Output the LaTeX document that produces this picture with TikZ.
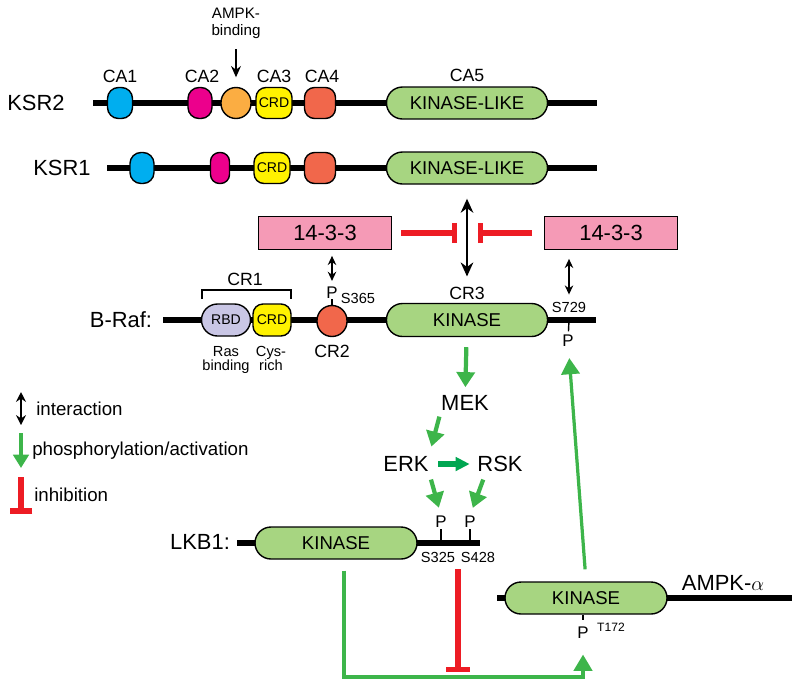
\documentclass[tikz,border=0pt]{standalone}
\usepackage{fontspec}
\setmainfont{Liberation Sans}
\usetikzlibrary{arrows.meta,positioning}

\definecolor{cablue}{HTML}{00AEEF}
\definecolor{camagenta}{HTML}{EC008C}
\definecolor{caorange}{HTML}{FBAD42}
\definecolor{crdyellow}{HTML}{FFF200}
\definecolor{cared}{HTML}{F1674B}
\definecolor{kingreen}{HTML}{A7D581}
\definecolor{rbdlilac}{HTML}{C9C6E5}
\definecolor{boxpink}{HTML}{F59AB6}
\definecolor{inhred}{HTML}{ED1C24}
\definecolor{actgreen}{HTML}{3DB54A}
\definecolor{actdark}{HTML}{00A651}

\def\pxu{0.025cm}

\tikzset{
  fnt/.style={font=\fontsize{#1}{#1}\selectfont},
  title/.style={fnt=15.6, inner sep=0pt},
  calab/.style={fnt=12.6, inner sep=0pt},
  small/.style={fnt=10.4, inner sep=0pt},
  plab/.style={fnt=12, inner sep=0pt},
  backbone/.style={line width=4.3pt},
  dom/.style={draw, line width=1pt, inner sep=0pt, minimum height=31*\pxu, rounded corners=#1*\pxu},
  dom/.default=10,
  kin/.style={dom=16, fill=kingreen, minimum width=161*\pxu, minimum height=32*\pxu, fnt=13.2},
  crd/.style={dom=10, fill=crdyellow, fnt=10},
  box/.style={draw, line width=1.2pt, fill=boxpink, minimum width=133*\pxu, minimum height=33*\pxu, fnt=15.6},
  inter/.style={line width=1.1pt, {Stealth[width=6pt,length=6.5pt]}-{Stealth[width=6pt,length=6.5pt]}},
  interbig/.style={line width=1.3pt, {Stealth[width=9pt,length=10pt]}-{Stealth[width=9pt,length=10pt]}},
  act/.style={draw=actgreen, line width=3pt, -{Triangle[width=12.8pt,length=10.7pt]}},
  actthin/.style={draw=actgreen, line width=2.3pt, -{Triangle[width=13pt,length=11.5pt]}},
  inh/.style={draw=inhred, line width=3.6pt, -{Bar[width=#1]}},
  inh/.default=14.5pt,
  gap/.style 2 args={shorten <=#1*\pxu, shorten >=#2*\pxu}
}

\begin{document}
\begin{tikzpicture}[x=0.025cm, y=-0.025cm]
\useasboundingbox (0,0) rectangle (800,687);

% KSR2
\draw[backbone] (93,103) -- (597,103);
\node[title] (ksr2) at (36,103) {KSR2};
\node[dom=11, fill=cablue, minimum width=25*\pxu] (ksr2ca1) at (120,103) {};
\node[dom=11, fill=camagenta, minimum width=24*\pxu] (ksr2ca2) at (200,103) {};
\node[dom=15, fill=caorange, minimum width=30*\pxu] (ksr2amp) at (236,103) {};
\node[crd, minimum width=36*\pxu] (ksr2crd) at (274,103) {CRD};
\node[dom=10, fill=cared, minimum width=31*\pxu] (ksr2ca4) at (320,103) {};
\node[kin] (ksr2kin) at (467,103) {KINASE-LIKE};
\node[calab] (lca1) at (120,76) {CA1};
\node[calab] (lca2) at (202,76) {CA2};
\node[calab] (lca3) at (274,76) {CA3};
\node[calab] (lca4) at (322,76) {CA4};
\node[calab] (lca5) at (467,75) {CA5};
\node[font=\fontsize{10.8}{12}\selectfont, align=center, inner sep=0pt, anchor=north] (ampkbind) at (236,8) {AMPK-\\binding};
\draw[line width=1.2pt, -{Stealth[width=7pt,length=8pt]}, gap={10}{9.5}] (ampkbind) -- (ksr2amp);

% KSR1
\draw[backbone] (107,168) -- (597,168);
\node[title] (ksr1) at (62,168) {KSR1};
\node[dom=11, fill=cablue, minimum width=24*\pxu] (ksr1ca1) at (142,168) {};
\node[dom=9, fill=camagenta, minimum width=19*\pxu] (ksr1ca2) at (220,168) {};
\node[crd, minimum width=36*\pxu] (ksr1crd) at (272,168) {CRD};
\node[dom=10, fill=cared, minimum width=31*\pxu] (ksr1ca4) at (320,168) {};
\node[kin] (ksr1kin) at (467,168) {KINASE-LIKE};

% 14-3-3
\node[box] (box1) at (325,233) {14-3-3};
\node[box] (box2) at (611,233) {14-3-3};

% B-Raf
\draw[backbone] (163,320) -- (596,320);
\node[title] (braf) at (121,320) {B-Raf:};
\node[dom=16, fill=rbdlilac, minimum width=49*\pxu, minimum height=32*\pxu, fnt=10] (rbd) at (226,320) {RBD};
\node[crd, minimum width=38*\pxu, minimum height=32*\pxu] (brafcrd) at (272,320) {CRD};
\node[dom=15, fill=cared, minimum width=30*\pxu] (cr2) at (332,321) {};
\node[kin, minimum height=33*\pxu] (brafkin) at (467,320) {KINASE};
\draw[line width=1.1pt] (202,299) -- (202,290) -- (291,290) -- (291,299);
\node[calab] (lcr1) at (245,279) {CR1};
\node[calab] (lcr2) at (332,351) {CR2};
\node[calab] (lcr3) at (467,293) {CR3};
\node[font=\fontsize{10.4}{10}\selectfont, align=center, inner sep=0pt, anchor=north] (rasb) at (226,346) {Ras\\binding};
\node[font=\fontsize{10.4}{10}\selectfont, align=center, inner sep=0pt, anchor=north] (cysr) at (271,346) {Cys-\\rich};
\node[plab] (p365) at (332,293) {P};
\node[small] (s365) at (358,298) {S365};
\draw[line width=1pt] (p365) -- (cr2);
\node[small] (s729) at (569,307) {S729};
\coordinate (b729) at (569,320);
\node[plab] (p729) at (568,341) {P};
\draw[line width=1pt, shorten >=3.5*\pxu] (b729) -- (p729);

\draw[interbig, gap={14}{10}] (ksr1kin) -- (lcr3);
\draw[inter, gap={5.5}{6}] (box1.south -| p365) -- (p365);
\draw[inter, gap={8.5}{7}] (box2.south -| s729) -- (s729);
\draw[inh, gap={9}{10}] (box1.east) -- (box1.east -| brafkin.center);
\draw[inh, gap={11.5}{11}] (box2.west) -- (box2.west -| brafkin.center);

% legend
\coordinate (lgi1) at (21,392);
\coordinate (lgi2) at (21,425);
\draw[line width=1.2pt, {Stealth[width=7pt,length=7pt]}-{Stealth[width=7pt,length=7pt]}] (lgi1) -- (lgi2);
\node[fnt=13.3, inner sep=0pt, anchor=base west] (lginter) at (36,415) {interaction};
\coordinate (lga1) at (21,433);
\coordinate (lga2) at (21,468);
\draw[act, -{Triangle[width=11pt,length=9.5pt]}] (lga1) -- (lga2);
\node[fnt=13.3, inner sep=0pt, anchor=base west] (lgact) at (32,455) {phosphorylation/activation};
\coordinate (lgh1) at (21,477);
\coordinate (lgh2) at (21,514);
\draw[inh=16pt, line width=4pt] (lgh1) -- (lgh2);
\node[fnt=13.3, inner sep=0pt, anchor=base west] (lginh) at (34,501) {inhibition};

% MAPK cascade
\node[title] (mek) at (465,403) {MEK};
\node[title] (erk) at (406,464) {ERK};
\node[title] (rsk) at (500,464) {RSK};
\draw[act, gap={10}{8}] (brafkin) -- (mek);
\draw[act, gap={6}{10}] (mek.south west) -- (erk.north east);
\draw[draw=actdark, line width=3.6pt, -{Triangle[width=9.5pt,length=10pt]}, gap={9.5}{7.5}] (erk.east) -- (rsk.west);

% LKB1
\draw[backbone] (237,543) -- (480,543);
\node[title] (lkb1) at (200,542) {LKB1:};
\node[kin, minimum width=162*\pxu] (lkbkin) at (336,543) {KINASE};
\coordinate (b325) at (441,543);
\coordinate (b428) at (470,543);
\node[plab] (p325) at (441,521.5) {P};
\node[plab] (p428) at (470,521.5) {P};
\draw[line width=1pt, shorten >=1.5*\pxu] (b325) -- (p325);
\draw[line width=1pt, shorten >=1.5*\pxu] (b428) -- (p428);
\node[small] (s325) at (438,557.5) {S325};
\node[small] (s428) at (478,557.5) {S428};
\draw[act, gap={8}{8}] (erk.south east) -- (p325.north);
\draw[act, gap={8}{8}] ([xshift=-14*\pxu]rsk.south) -- (p428.north);

% AMPK
\draw[backbone] (497,598) -- (792,598);
\node[title] (ampka) at (723,583) {AMPK-$\alpha$};
\node[kin, minimum width=162*\pxu] (ampkkin) at (586,598) {KINASE};
\node[plab] (p172) at (583,633) {P};
\node[fnt=8.6, inner sep=0pt] (t172) at (611,627) {T172};
\draw[line width=1pt, shorten >=7*\pxu] (ampkkin.south -| p172) -- (p172);
\draw[actthin, gap={12}{11}] (ampkkin.north) -- (p729);

% LKB1 -> AMPK, blocked by S325/S428
\coordinate (bend) at (344,677);
\draw[actthin, shorten >=15.5*\pxu] ([xshift=8*\pxu, yshift=-11*\pxu]lkbkin.south) -- (bend) -| (p172);
\coordinate (lkbinh) at (458,569);
\draw[inh=17pt, shorten >=5*\pxu] (lkbinh) -- (lkbinh |- bend);
\end{tikzpicture}
\end{document}
